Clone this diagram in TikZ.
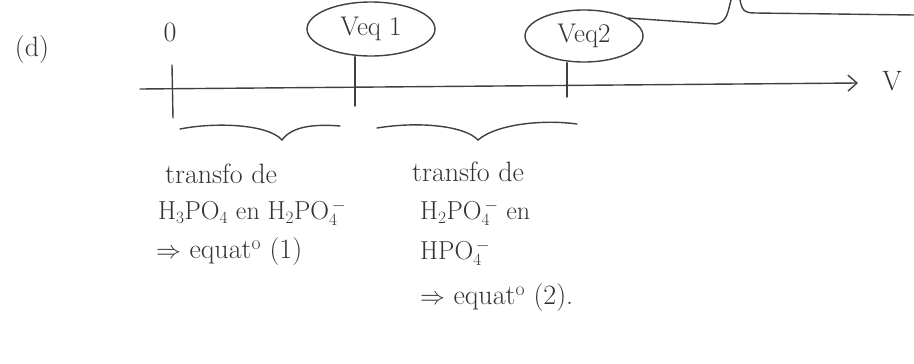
\documentclass[tikz,border=0pt]{standalone}
\usepackage{fontspec}
\usetikzlibrary{arrows.meta,shapes.geometric}
\begin{document}
\begin{tikzpicture}[x=1pt,y=-1pt,
  ink/.style={draw=black!75, line width=1.4pt, line cap=round},
  hand/.style={font=\fontsize{28}{32}\selectfont, text=black!80, inner sep=0pt},
  chem/.style={hand, font=\fontsize{26}{30}\selectfont},
  bubble/.style={ink, ellipse, minimum width=128pt, minimum height=54pt, inner sep=0pt, font=\fontsize{27}{30}\selectfont, text=black!80}]
\useasboundingbox (0,0) rectangle (914,364);

% labels
\node[hand] (lab) at (32,50) {(d)};
\node[hand] (zero) at (170,32) {0};
\node[hand] (V) at (892,81) {V};

% axis
\coordinate (a0) at (140,89);
\coordinate (a1) at (858,83);
\draw[ink, -{Straight Barb[length=9pt,width=16pt]}] (a0) -- (a1);

% equivalence bubbles
\node[bubble] (veq1) at (371,29) {Veq 1};
\node[bubble, minimum width=118pt, minimum height=52pt] (veq2) at (584,36) {Veq2};

% ticks
\coordinate (t0a) at (172,65); \coordinate (t0b) at (173,118);
\coordinate (t1b) at (355,106);
\coordinate (t2b) at (567,97);
\draw[ink] (t0a) -- (t0b);
\draw[ink] (veq1.south -| t1b) -- (t1b);
\draw[ink] (veq2.south -| t2b) -- (t2b);

% connector to box above
\coordinate (up1) at (731,0);
\draw[ink] (veq2.22) -- (716,24) .. controls (728,22) and (728,10) .. (up1);
\coordinate (bx0) at (740,0);
\coordinate (bx1) at (914,15);
\draw[ink] (bx0) .. controls (742,10) and (744,13) .. (755,13) -- (bx1);

% braces
\coordinate (b1l) at (180,129); \coordinate (b1t) at (282,140); \coordinate (b1r) at (340,126);
\draw[ink] (b1l) .. controls (215,122) and (268,124) .. (b1t) .. controls (292,126) and (315,124) .. (b1r);
\coordinate (b2l) at (377,128); \coordinate (b2t) at (478,140); \coordinate (b2r) at (577,124);
\draw[ink] (b2l) .. controls (420,121) and (465,126) .. (b2t) .. controls (495,125) and (540,119) .. (b2r);

% text under first brace
\node[hand, anchor=west] (tA1) at (165,174) {transfo de};
\node[chem, anchor=west] (tA2) at (158,213) {H$_3$PO$_4$ en H$_2$PO$_4^{\,-}$};
\node[hand, anchor=west] (tA3) at (156,252) {$\Rightarrow$ equat\textsuperscript{o} (1)};

% text under second brace
\node[hand, anchor=west] (tB1) at (412,172) {transfo de};
\node[chem, anchor=west] (tB2) at (420,213) {H$_2$PO$_4^{\,-}$ en};
\node[chem, anchor=west] (tB3) at (420,253) {HPO$_4^{\,-}$};
\node[hand, anchor=west] (tB4) at (420,298) {$\Rightarrow$ equat\textsuperscript{o} (2).};
\end{tikzpicture}
\end{document}
